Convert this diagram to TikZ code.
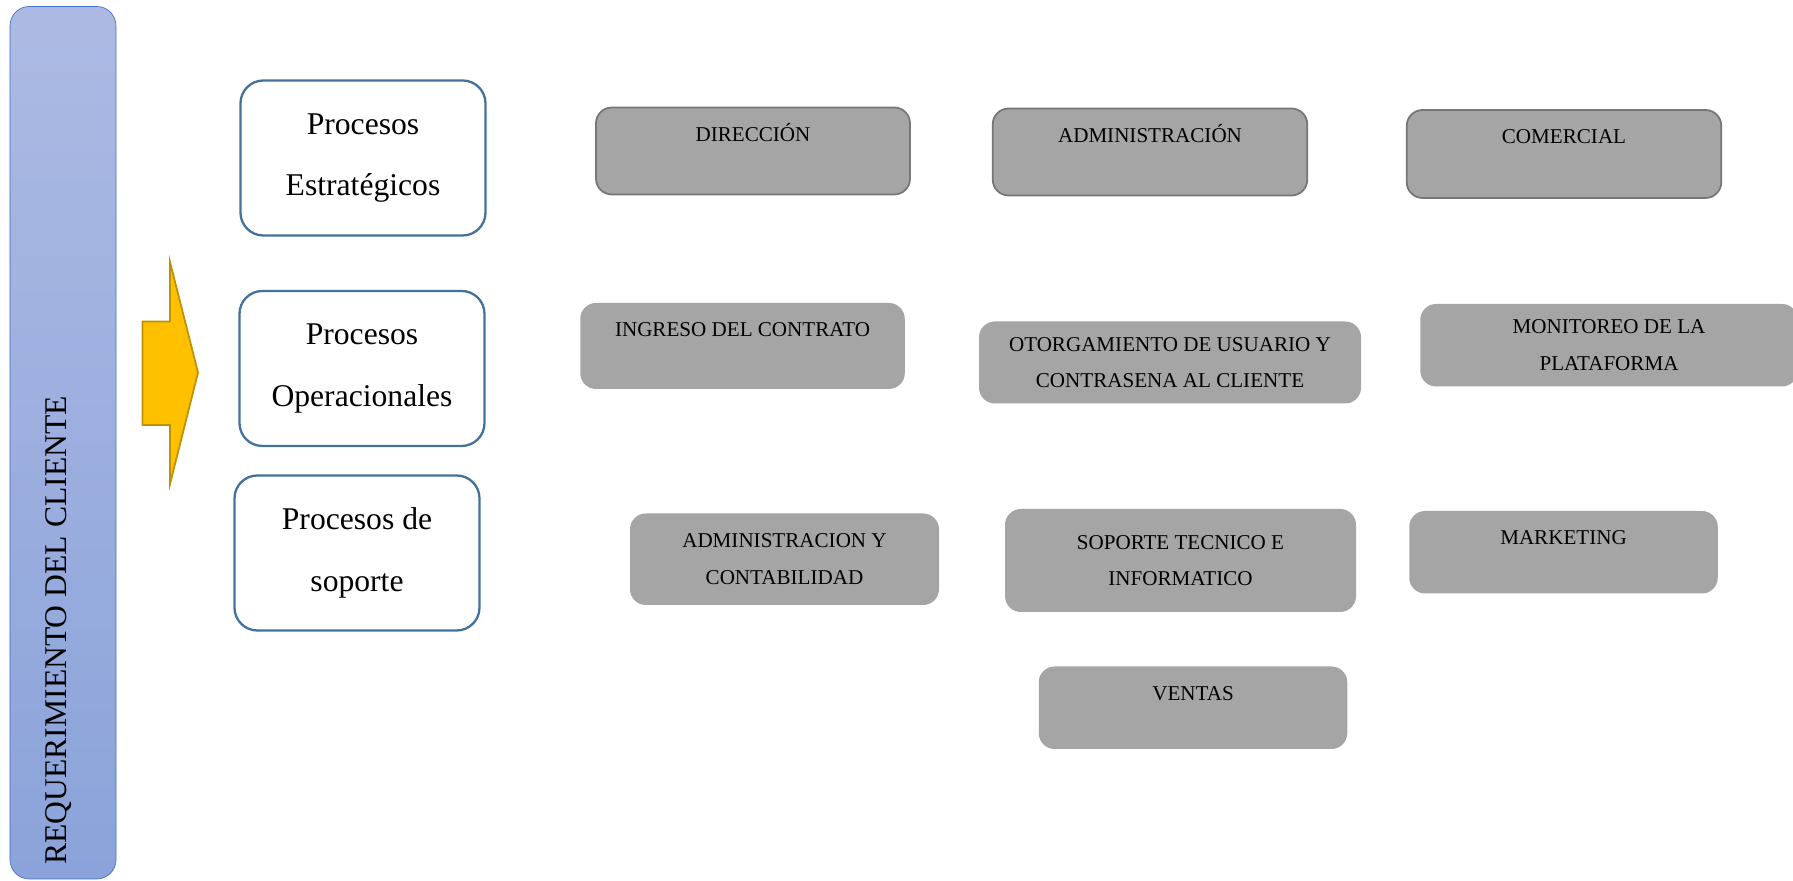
\documentclass[tikz,border=0pt]{standalone}
\usepackage{fontspec}
\setmainfont{Liberation Serif}
\usepackage{xcolor}
\usetikzlibrary{positioning, calc}
\definecolor{cBarTop}{RGB}{172,186,227}
\definecolor{cBarBot}{RGB}{139,163,218}
\definecolor{cBarLine}{RGB}{68,114,196}
\definecolor{cGold}{RGB}{255,192,0}
\definecolor{cGoldLine}{RGB}{191,144,0}
\definecolor{cFrame}{RGB}{65,113,156}
\definecolor{cArea}{RGB}{165,165,165}
\definecolor{cAreaLine}{RGB}{118,118,118}
\tikzset{
	bar/.style      ={rectangle, rounded corners=11pt, minimum width=2.12cm, minimum height=17.45cm, draw=cBarLine, thin, top color=cBarTop, bottom color=cBarBot},
	proc/.style     ={rectangle, rounded corners=13pt, minimum width=4.9cm, minimum height=3.1cm, align=center, draw=cFrame, line width=1.3pt, fill=white, font=\fontsize{18}{35}\selectfont},
	area/.style     ={rectangle, rounded corners=9pt, inner sep=0pt, align=center, fill=cArea, font=\fontsize{12}{20.8}\selectfont},
	areab/.style    ={area, draw=cAreaLine, line width=1pt},
	topline/.style  ={text height=0.68cm, text depth=#1},
}
\begin{document}
\begin{tikzpicture}
	\useasboundingbox (0,0) rectangle (35.86,17.62);
	% client requirement bar
	\node[bar] (reqbar) at (1.26,8.765) {};
	\node[rotate=90, anchor=base west, inner sep=0pt, font=\fontsize{18}{22}\selectfont] (req) at (1.32,0.32) {REQUERIMIENTO DEL CLIENTE};
	% block arrow
	\filldraw[fill=cGold, draw=cGoldLine, line width=1pt] (2.85,11.19) -- (3.40,11.19) -- (3.40,12.38) -- (3.96,10.17) -- (3.40,7.94) -- (3.40,9.12) -- (2.85,9.12) -- cycle;
	% process types
	\node[proc] (pest) at (7.26,14.46) {Procesos\\Estratégicos};
	\node[proc] (pope) at (7.24,10.25) {Procesos\\Operacionales};
	\node[proc] (psop) at (7.14,6.56) {Procesos de\\soporte};
	% strategic areas
	\node[areab, minimum width=6.28cm, topline=1.06cm] (dir) at (15.06,14.60) {DIRECCIÓN};
	\node[areab, minimum width=6.29cm, topline=1.06cm] (adm) at (23.00,14.58) {ADMINISTRACIÓN};
	\node[areab, minimum width=6.29cm, topline=1.08cm] (com) at (31.28,14.54) {COMERCIAL};
	% operational areas
	\node[area, minimum width=6.49cm, topline=1.04cm] (ing) at (14.85,10.70) {INGRESO DEL CONTRATO};
	\node[area, minimum width=7.64cm, minimum height=1.64cm] (oto) at (23.40,10.37) {OTORGAMIENTO DE USUARIO Y\\CONTRASENA AL CLIENTE};
	\node[area, minimum width=7.55cm, minimum height=1.65cm] (mon) at (32.18,10.715) {MONITOREO DE LA\\PLATAFORMA};
	% support areas
	\node[area, minimum width=6.18cm, minimum height=1.83cm] (adc) at (15.69,6.435) {ADMINISTRACION Y\\CONTABILIDAD};
	\node[area, minimum width=7.02cm, minimum height=2.06cm] (sop) at (23.61,6.41) {SOPORTE TECNICO E\\INFORMATICO};
	\node[area, minimum width=6.17cm, topline=0.97cm] (mkt) at (31.27,6.575) {MARKETING};
	\node[area, minimum width=6.17cm, topline=0.97cm] (ven) at (23.86,3.465) {VENTAS};
\end{tikzpicture}
\end{document}
